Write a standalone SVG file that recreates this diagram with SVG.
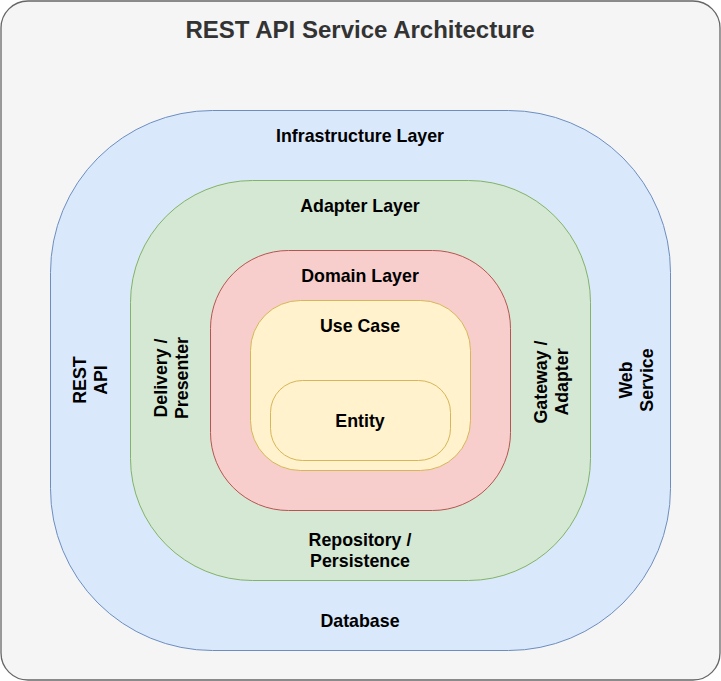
<svg xmlns="http://www.w3.org/2000/svg" width="721" height="681" viewBox="0 0 721 681">
  <style>
    .lbl { font-family: "Liberation Sans", Arial, sans-serif; font-weight: bold; font-size: 17.8px; fill: #000000; text-anchor: middle; }
    .title { font-family: "Liberation Sans", Arial, sans-serif; font-weight: bold; font-size: 24px; fill: #333333; text-anchor: middle; }
    .blue { fill: #dae8fc; stroke: #6c8ebf; stroke-width: 1; }
    .green { fill: #d5e8d4; stroke: #82b366; stroke-width: 1; }
    .red { fill: #f8cecc; stroke: #b85450; stroke-width: 1; }
    .yellow { fill: #fff2cc; stroke: #d6b656; stroke-width: 1; }
  </style>
  <g id="background">
    <rect x="1" y="1" width="719" height="679" rx="27" ry="27" fill="#f5f5f5" stroke="#666666" stroke-width="1.3"/>
    <text class="title" x="360" y="38">REST API Service Architecture</text>
  </g>
  <g id="infrastructure-layer">
    <rect class="blue" x="50.5" y="110.5" width="620" height="540" rx="162" ry="162"/>
    <text class="lbl" x="360" y="142">Infrastructure Layer</text>
    <text class="lbl" x="360" y="627">Database</text>
    <text class="lbl" transform="translate(90,380) rotate(-90)"><tspan x="0" y="-4">REST</tspan><tspan x="0" y="17">API</tspan></text>
    <text class="lbl" transform="translate(636,380) rotate(-90)"><tspan x="0" y="-4">Web</tspan><tspan x="0" y="17">Service</tspan></text>
  </g>
  <g id="adapter-layer">
    <rect class="green" x="130.5" y="180.5" width="460" height="400" rx="122" ry="122"/>
    <text class="lbl" x="360" y="212">Adapter Layer</text>
    <text class="lbl" x="360" y="545.5">Repository /</text>
    <text class="lbl" x="360" y="566.5">Persistence</text>
    <text class="lbl" transform="translate(171,378) rotate(-90)"><tspan x="0" y="-4">Delivery /</tspan><tspan x="0" y="17">Presenter</tspan></text>
    <text class="lbl" transform="translate(551,382) rotate(-90)"><tspan x="0" y="-4">Gateway /</tspan><tspan x="0" y="17">Adapter</tspan></text>
  </g>
  <g id="domain-layer">
    <rect class="red" x="210.5" y="250.5" width="300" height="260" rx="78" ry="78"/>
    <text class="lbl" x="360" y="281.7">Domain Layer</text>
  </g>
  <g id="use-case">
    <rect class="yellow" x="250.5" y="300.5" width="220" height="170" rx="50" ry="50"/>
    <text class="lbl" x="360" y="331.7">Use Case</text>
  </g>
  <g id="entity">
    <rect class="yellow" x="270.5" y="380.5" width="180" height="80" rx="32" ry="32"/>
    <text class="lbl" x="360" y="426.7">Entity</text>
  </g>
  <g id="connectors"></g>
</svg>
